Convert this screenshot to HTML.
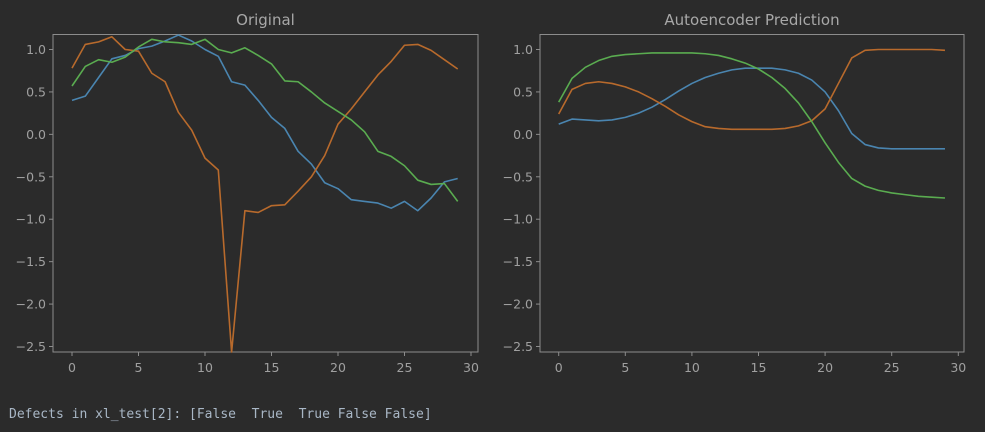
<!DOCTYPE html>
<html><head><meta charset="utf-8"><style>
html,body{margin:0;padding:0;background:#2b2b2b;width:985px;height:432px;overflow:hidden}
svg{position:absolute;left:0;top:0}
#out{position:absolute;left:9px;top:407px;font-family:"DejaVu Sans Mono","Liberation Mono",monospace;font-size:13px;color:#a9b7c6;white-space:pre}
</style></head><body>
<svg id="chart" width="985" height="432" xmlns="http://www.w3.org/2000/svg"></svg>
<div id="out">Defects in xl_test[2]: [False  True  True False False]</div>
<script>
const xTicks=[0,5,10,15,20,25,30];
const yTicks=[1.0,0.5,0.0,-0.5,-1.0,-1.5,-2.0,-2.5];
const yTickLabels=["1.0","0.5","0.0","\u22120.5","\u22121.0","\u22121.5","\u22122.0","\u22122.5"];
const origOrange=[0.78,1.06,1.09,1.15,1.0,0.98,0.72,0.62,0.26,0.05,-0.28,-0.42,-2.58,-0.9,-0.92,-0.84,-0.83,-0.67,-0.5,-0.25,0.12,0.3,0.5,0.7,0.86,1.05,1.06,0.99,0.88,0.77];
const origBlue=[0.40,0.45,0.67,0.89,0.93,1.01,1.04,1.1,1.17,1.1,1.0,0.92,0.62,0.58,0.4,0.2,0.07,-0.2,-0.35,-0.57,-0.64,-0.77,-0.79,-0.81,-0.87,-0.79,-0.9,-0.75,-0.56,-0.52];
const origGreen=[0.57,0.8,0.88,0.85,0.91,1.03,1.12,1.09,1.08,1.06,1.12,1.0,0.96,1.02,0.93,0.83,0.63,0.62,0.5,0.37,0.27,0.17,0.03,-0.2,-0.26,-0.37,-0.54,-0.59,-0.58,-0.79];
const predOrange=[0.24,0.53,0.6,0.62,0.6,0.56,0.5,0.42,0.33,0.23,0.15,0.09,0.07,0.06,0.06,0.06,0.06,0.07,0.1,0.16,0.3,0.6,0.9,0.99,1.0,1.0,1.0,1.0,1.0,0.99];
const predBlue=[0.12,0.18,0.17,0.16,0.17,0.2,0.25,0.32,0.41,0.51,0.6,0.67,0.72,0.76,0.78,0.78,0.78,0.76,0.72,0.64,0.5,0.28,0.01,-0.12,-0.16,-0.17,-0.17,-0.17,-0.17,-0.17];
const predGreen=[0.38,0.66,0.79,0.87,0.92,0.94,0.95,0.96,0.96,0.96,0.96,0.95,0.93,0.89,0.84,0.77,0.67,0.54,0.37,0.15,-0.1,-0.33,-0.52,-0.61,-0.66,-0.69,-0.71,-0.73,-0.74,-0.75];

const svg=document.getElementById('chart');
const NS='http://www.w3.org/2000/svg';
function mk(t,a){const e=document.createElementNS(NS,t);for(const k in a)e.setAttribute(k,a[k]);svg.appendChild(e);return e;}
const colors={orange:'#b86a2c',blue:'#4a85b0',green:'#5aac50'};
function panel(key,title,L,R,x0,x30,series){
  const T=34.5,B=352;
  const xs=v=>x0+(x30-x0)*v/30;
  const ys=v=>49.5+(1.0-v)*84.86;
  const box=mk('rect',{x:L,y:T,width:R-L,height:B-T,fill:'none',stroke:'#8c8c8c','stroke-width':1});
  
  
  const tt=mk('text',{x:(L+R)/2,y:25,'text-anchor':'middle',fill:'#a8a8a8','font-family':'DejaVu Sans, Liberation Sans, sans-serif','font-size':'15px'});
  tt.textContent=title;
  
  
  xTicks.forEach(v=>{
    const x=xs(v);
    const l=mk('line',{x1:x,x2:x,y1:B,y2:B+4,stroke:'#8c8c8c'});
    
    
    const t=mk('text',{x:x,y:B+20,'text-anchor':'middle',fill:'#a0a0a0','font-family':'DejaVu Sans, Liberation Sans, sans-serif','font-size':'12.5px'});
    t.textContent=String(v);
    
    
  });
  yTicks.forEach((v,i)=>{
    const y=ys(v);
    const l=mk('line',{x1:L-4,x2:L,y1:y,y2:y,stroke:'#8c8c8c'});
    
    
    const t=mk('text',{x:L-7,y:y+4.5,'text-anchor':'end',fill:'#a0a0a0','font-family':'DejaVu Sans, Liberation Sans, sans-serif','font-size':'12.5px'});
    t.textContent=yTickLabels[i];
    
    
  });
  series.forEach(([name,data])=>{
    const pts=data.map((v,i)=>xs(i).toFixed(2)+','+Math.max(T,Math.min(B,ys(v))).toFixed(2)).join(' ');
    const p=mk('polyline',{points:pts,fill:'none',stroke:colors[name],'stroke-width':1.6,'stroke-linejoin':'round'});
    
    
  });
}
panel('original','Original',53,478,72,471,[['blue',origBlue],['orange',origOrange],['green',origGreen]]);
panel('prediction','Autoencoder Prediction',540,964,558.7,958.3,[['blue',predBlue],['orange',predOrange],['green',predGreen]]);
</script>
</body></html>
